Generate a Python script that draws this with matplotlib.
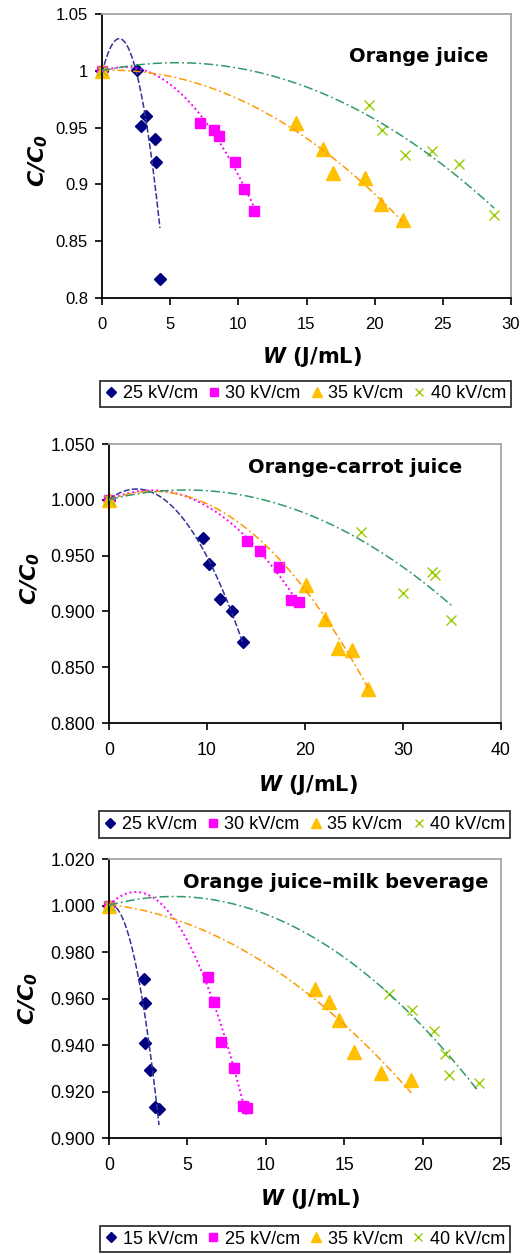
"""C/C0 versus specific energy W for three juices treated at several field
strengths, each panel with polynomial trend lines and a legend underneath."""

import matplotlib

matplotlib.use("Agg")

import matplotlib.pyplot as plt
import numpy as np
from matplotlib.ticker import FixedLocator, FormatStrFormatter

plt.rcParams["font.family"] = ["Liberation Sans", "DejaVu Sans"]
plt.rcParams["mathtext.fontset"] = "dejavusans"

# --- Orange juice -----------------------------------------------------------
oj_labels = ["25 kV/cm", "30 kV/cm", "35 kV/cm", "40 kV/cm"]
oj_w = [
    [0.0, 2.57, 2.86, 3.22, 3.86, 3.96, 4.25],
    [0.0, 7.16, 8.18, 8.55, 9.77, 10.41, 11.14],
    [0.0, 14.24, 16.2, 16.98, 19.3, 20.47, 22.06],
    [0.0, 19.57, 20.57, 22.23, 24.19, 26.19, 28.76],
]
oj_c = [
    [1.0, 1.001, 0.951, 0.960, 0.940, 0.920, 0.8165],
    [1.0, 0.954, 0.948, 0.9425, 0.920, 0.896, 0.877],
    [1.0, 0.954, 0.931, 0.910, 0.906, 0.883, 0.869],
    [1.0, 0.970, 0.948, 0.926, 0.929, 0.918, 0.873],
]

# --- Orange-carrot juice ----------------------------------------------------
oc_labels = ["25 kV/cm", "30 kV/cm", "35 kV/cm", "40 kV/cm"]
oc_w = [
    [0.0, 9.57, 10.25, 11.37, 12.6, 13.72],
    [0.0, 14.06, 15.39, 17.36, 18.59, 19.34],
    [0.0, 20.09, 22.03, 23.32, 24.82, 26.45],
    [0.0, 25.7, 29.96, 32.92, 33.26, 34.93],
]
oc_c = [
    [1.0, 0.9656, 0.9425, 0.9108, 0.9003, 0.8728],
    [1.0, 0.9635, 0.9539, 0.9401, 0.9104, 0.9083],
    [1.0, 0.9237, 0.8928, 0.867, 0.8652, 0.8305],
    [1.0, 0.971, 0.9165, 0.9356, 0.9323, 0.8922],
]

# --- Orange juice-milk beverage ---------------------------------------------
om_labels = ["15 kV/cm", "25 kV/cm", "35 kV/cm", "40 kV/cm"]
om_w = [
    [0.0, 2.21, 2.28, 2.30, 2.64, 2.96, 3.19],
    [0.0, 6.34, 6.68, 7.17, 7.96, 8.53, 8.77],
    [0.0, 13.13, 14.02, 14.7, 15.6, 17.34, 19.28],
    [0.0, 17.87, 19.34, 20.74, 21.4, 21.66, 23.57],
]
om_c = [
    [1.0, 0.9686, 0.9579, 0.9409, 0.9294, 0.9134, 0.9126],
    [1.0, 0.9693, 0.9583, 0.9415, 0.930, 0.9139, 0.913],
    [1.0, 0.964, 0.9587, 0.9507, 0.937, 0.928, 0.925],
    [1.0, 0.962, 0.955, 0.9462, 0.9362, 0.9273, 0.9238],
]

MARKERS = [
    dict(marker="D", ms=6.5, color="#000080", mec="#000080"),
    dict(marker="s", ms=7.5, color="#FF00FF", mec="#FF00FF"),
    dict(marker="^", ms=9.5, color="#FFC000", mec="#FFC000"),
    dict(marker="x", ms=7, color="#99CC00", mec="#99CC00", mew=1.0),
]
TRENDS = [
    dict(color="#333399", ls=(0, (4, 1.5)), lw=1.1),
    dict(color="#FF00FF", ls=(0, (1, 1.5)), lw=1.4),
    dict(color="#FF9900", ls=(0, (5, 2, 1.2, 2)), lw=1.1),
    dict(color="#339966", ls=(0, (6, 2, 1.2, 2)), lw=1.1),
]

FIG_W, FIG_H = 531, 1254


def px_rect(left, top, right, bottom):
    """Figure-fraction rectangle from pixel edges (origin top-left)."""
    return [left / FIG_W, 1 - bottom / FIG_H, (right - left) / FIG_W, (bottom - top) / FIG_H]


def draw_panel(fig, rect, legend_rect, title, labels, ws, cs, degrees,
               xticks, yticks, yfmt, tick_size, title_xy, xlabel_xy, ylabel_xy):
    ax = fig.add_axes(px_rect(*rect))
    handles = []
    for w, c, deg, mk, tr, lab in zip(ws, cs, degrees, MARKERS, TRENDS, labels):
        w = np.asarray(w)
        c = np.asarray(c)
        # second-order polynomial trend line over the measured W range
        coef = np.polyfit(w, c, deg)
        xs = np.linspace(0, w.max(), 200)
        ax.plot(xs, np.polyval(coef, xs), zorder=3, **tr)
        (h,) = ax.plot(w, c, ls="none", zorder=2, label=lab, clip_on=False, **mk)
        handles.append(h)

    ax.set_xlim(xticks[0], xticks[-1])
    ax.set_ylim(yticks[0], yticks[-1])
    ax.xaxis.set_major_locator(FixedLocator(xticks))
    ax.yaxis.set_major_locator(FixedLocator(yticks))
    if yfmt:
        ax.yaxis.set_major_formatter(FormatStrFormatter(yfmt))
    else:
        ax.set_yticklabels([f"{v:g}" for v in yticks])
    ax.tick_params(direction="out", length=5, width=1.2, labelsize=tick_size,
                   colors="black", pad=5)
    ax.tick_params(axis="x", pad=9)
    for side in ("left", "bottom"):
        ax.spines[side].set_color("black")
        ax.spines[side].set_linewidth(1.3)
    for side in ("top", "right"):
        ax.spines[side].set_color("#A6A6A6")
        ax.spines[side].set_linewidth(1.3)

    ax.set_xlabel(r"$\bfit{W}$ (J/mL)", fontsize=15, fontweight="bold",
                  family="DejaVu Sans")
    ax.xaxis.set_label_coords(*xlabel_xy)
    ax.set_ylabel(r"$\bfit{C/C}_{\bfit{0}}$", fontsize=16)
    ax.yaxis.set_label_coords(*ylabel_xy)
    ax.text(*title_xy, title, transform=ax.transAxes, ha="right", va="center",
            fontsize=14, fontweight="bold", family="DejaVu Sans")

    leg = fig.legend(handles=handles, loc="center", ncol=4, mode="expand",
                     bbox_to_anchor=px_rect(*legend_rect), fontsize=13,
                     frameon=True, fancybox=False, edgecolor="black",
                     borderpad=0.25, handlelength=0.7, handletextpad=0.3,
                     columnspacing=0.2, borderaxespad=0, markerscale=0.75)
    leg.get_frame().set_linewidth(1.3)
    return ax


fig = plt.figure(figsize=(FIG_W / 100, FIG_H / 100), dpi=100)

draw_panel(fig, (102, 14, 511, 298), (100, 378, 511, 410), "Orange juice",
           oj_labels, oj_w, oj_c, [2, 2, 2, 2],
           [0, 5, 10, 15, 20, 25, 30], [0.8, 0.85, 0.9, 0.95, 1.0, 1.05],
           None, 12, (0.945, 0.852), (0.513, -0.165), (-0.127, 0.486))
draw_panel(fig, (109, 444, 501, 723), (99, 808, 510, 841), "Orange-carrot juice",
           oc_labels, oc_w, oc_c, [2, 2, 2, 2],
           [0, 10, 20, 30, 40], [0.8, 0.85, 0.9, 0.95, 1.0, 1.05],
           "%.3f", 12.8, (0.90, 0.914), (0.508, -0.179), (-0.171, 0.52))
draw_panel(fig, (109, 859, 501, 1138), (100, 1223, 510, 1255),
           "Orange juice\u2013milk beverage",
           om_labels, om_w, om_c, [2, 2, 2, 2],
           [0, 5, 10, 15, 20, 25], [0.9, 0.92, 0.94, 0.96, 0.98, 1.0, 1.02],
           "%.3f", 12.8, (0.967, 0.914), (0.513, -0.176), (-0.176, 0.5))

fig.savefig("out.png", dpi=100)
